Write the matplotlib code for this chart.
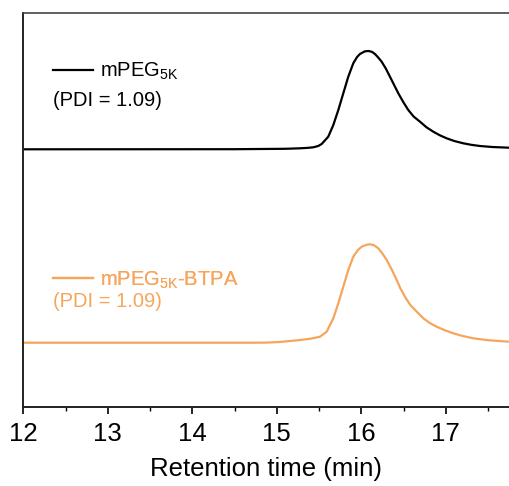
import matplotlib
matplotlib.use("Agg")
import matplotlib.pyplot as plt
from matplotlib.lines import Line2D

OUTPUT_IMAGE = "out.png"

# values (retention time in min, intensity in arbitrary units)
peg_time = [12.0, 14.5, 15.1, 15.274, 15.36, 15.432, 15.49, 15.531, 15.609, 15.669, 15.728,
            15.787, 15.846, 15.905, 15.95, 15.984, 16.04, 16.083, 16.125, 16.162, 16.2,
            16.241, 16.29, 16.339, 16.438, 16.5, 16.556, 16.62, 16.695, 16.77, 16.852,
            16.93, 17.010, 17.1, 17.207, 17.3, 17.404, 17.55, 17.748]
peg_signal = [257.7, 257.8, 258.2, 258.7, 259.1, 259.7, 261.0, 263.0, 270.3, 282.0, 297.0,
              313.7, 330.3, 343.7, 350.0, 353.0, 355.6, 356.0, 355.2, 353.0, 349.5,
              345.3, 338.5, 330.3, 313.7, 304.5, 297.0, 290.4, 285.3, 279.8, 275.3,
              271.7, 268.7, 266.0, 263.7, 262.2, 261.0, 260.0, 259.3]

btpa_time = [12.0, 14.7, 14.885, 15.03, 15.157, 15.275, 15.4, 15.512, 15.590, 15.669,
             15.728, 15.787, 15.846, 15.905, 15.96, 16.005, 16.06, 16.103, 16.15, 16.201,
             16.25, 16.301, 16.36, 16.419, 16.462, 16.520, 16.580, 16.66, 16.734, 16.81,
             16.892, 16.99, 17.089, 17.2, 17.325, 17.5, 17.748]
btpa_signal = [64.3, 64.3, 64.4, 65.0, 66.0, 67.0, 68.3, 70.3, 75.3, 88.7,
               103.7, 120.3, 137.0, 150.3, 157.0, 160.3, 162.2, 162.7, 161.8, 158.7,
               153.5, 147.0, 137.5, 127.0, 118.7, 109.8, 102.0, 95.0, 88.7, 84.0,
               80.3, 76.7, 73.7, 71.0, 68.7, 66.8, 65.3]

labels = [r"mPEG$_\mathregular{5K}$", r"mPEG$_\mathregular{5K}$-BTPA"]
pdi_labels = ["(PDI = 1.09)", "(PDI = 1.09)"]
colors = ["#000000", "#F6A55C"]

plt.rcParams["font.family"] = ["Liberation Sans", "DejaVu Sans"]
plt.rcParams["mathtext.fontset"] = "custom"
plt.rcParams["mathtext.rm"] = "Liberation Sans"

fig = plt.figure(figsize=(5.09, 4.86), dpi=100)
ax = fig.add_axes([23.3 / 509, 79 / 486, 485.7 / 509, 394 / 486])

ax.plot(peg_time, peg_signal, color=colors[0], lw=1.6, solid_joinstyle="round")
ax.plot(btpa_time, btpa_signal, color=colors[1], lw=1.6, solid_joinstyle="round")

ax.set_xlim(12, 17.748)
ax.set_ylim(0, 394)
ax.set_xticks([12, 13, 14, 15, 16, 17])
ax.set_xticks([12.5, 13.5, 14.5, 15.5, 16.5, 17.5], minor=True)
ax.tick_params(axis="x", which="major", direction="out", length=5, width=1.2, labelsize=18.5, pad=6)
ax.tick_params(axis="x", which="minor", direction="out", length=3, width=1.0)
ax.set_yticks([])
ax.spines["right"].set_visible(False)
for s in ["left", "bottom"]:
    ax.spines[s].set_linewidth(1.4)
    ax.spines[s].set_color("#222222")
ax.spines["top"].set_linewidth(1.2)
ax.spines["top"].set_color("#444444")
ax.set_xlabel("Retention time (min)", fontsize=18.5, labelpad=8)

# legend entries (one per series) and PDI notes
legend_y = [0.851, 0.322]
pdi_y = [0.779, 0.267]
for i in range(2):
    h = Line2D([], [], color=colors[i], lw=1.6)
    leg = ax.legend([h], [labels[i]], loc="center left", bbox_to_anchor=(0.061, legend_y[i]),
                    frameon=False, borderpad=0, borderaxespad=0, handlelength=2.0,
                    handletextpad=0.35, fontsize=14.5, labelcolor=colors[i])
    ax.add_artist(leg)
    ax.text(0.061, pdi_y[i], pdi_labels[i], transform=ax.transAxes, fontsize=14.5,
            color=colors[i], va="center", ha="left")

plt.savefig(OUTPUT_IMAGE, dpi=100)
plt.close()
